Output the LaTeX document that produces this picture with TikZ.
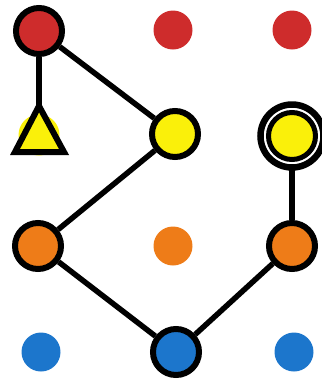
\documentclass[tikz,border=0pt]{standalone}
\begin{document}
\begin{tikzpicture}[x=1pt,y=-1pt,
  dot/.style={circle,inner sep=0pt,minimum size=39pt,minimum height=37pt,fill=#1},
  ringed/.style={circle,inner sep=0pt,minimum size=46pt,fill=#1,draw=black,line width=6pt},
  link/.style={line width=5.5pt,black}]
\definecolor{cred}{RGB}{206,44,44}
\definecolor{cyel}{RGB}{250,240,10}
\definecolor{corg}{RGB}{238,124,24}
\definecolor{cblu}{RGB}{28,118,204}
\useasboundingbox (0,0) rectangle (322,392);
% red row
\node[ringed=cred] (r1) at (39,31) {};
\node[dot=cred] (r2) at (173,30) {};
\node[dot=cred] (r3) at (292,30) {};
% yellow row
\fill[cyel] (39,135) circle (20.5pt);
\coordinate (ta) at (39,106);
\coordinate (tl) at (15,152);
\coordinate (tr) at (64,152);
\draw[line width=6pt,line join=miter,fill=cyel] (ta) -- (tl) -- (tr) -- cycle;
\node[ringed=cyel] (y2) at (175,134) {};
\node[circle,inner sep=0pt,minimum size=47pt,fill=cyel,draw=black,line width=5pt] (y3) at (292,136) {};
\draw[line width=6.5pt] (y3.center) circle (31.5pt);
\coordinate (y3b) at (292,170);
% orange row
\node[ringed=corg] (o1) at (38,246) {};
\node[dot=corg] (o2) at (173,246) {};
\node[ringed=corg] (o3) at (292,246) {};
% blue row
\node[dot=cblu] (b1) at (41,352) {};
\node[ringed=cblu] (b2) at (176,352) {};
\node[dot=cblu] (b3) at (294,352) {};
% links
\draw[link] (r1) -- (ta);
\draw[link] (r1) -- (y2);
\draw[link] (y2) -- (o1);
\draw[link] (o1) -- (b2);
\draw[link] (b2) -- (o3);
\draw[link] (o3) -- (y3b);
\end{tikzpicture}
\end{document}
